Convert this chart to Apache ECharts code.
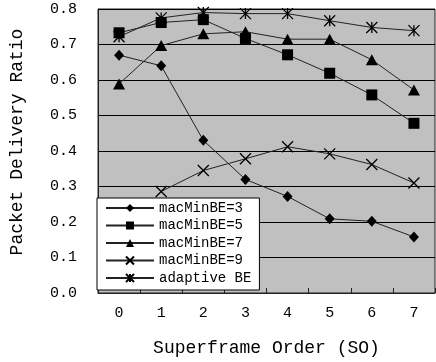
<!DOCTYPE html>
<html>
<head>
<meta charset="utf-8">
<script src="https://cdn.jsdelivr.net/npm/echarts@6/dist/echarts.min.js"></script>
<style>html,body{margin:0;padding:0;background:#fff}#c{width:436px;height:362px}</style>
</head>
<body>
<div id="c"></div>
<script>
var categories = ['0','1','2','3','4','5','6','7'];
var be3 = [0.67, 0.64, 0.43, 0.32, 0.272, 0.209, 0.202, 0.158];
var be5 = [0.733, 0.762, 0.77, 0.717, 0.671, 0.619, 0.558, 0.478];
var be7 = [0.589, 0.697, 0.73, 0.736, 0.715, 0.715, 0.657, 0.572];
var be9 = ['-', 0.286, 0.345, 0.378, 0.412, 0.392, 0.362, 0.31];
var adaptive = [0.722, 0.775, 0.79, 0.787, 0.787, 0.767, 0.748, 0.739];
var seriesNames = ['macMinBE=3','macMinBE=5','macMinBE=7','macMinBE=9','adaptive BE'];

var FONT = 'Liberation Mono';
var xPath = 'path://M0,0 L10,10 M10,0 L0,10';
var starPath = 'path://M0,0 L10,10 M10,0 L0,10 M5,0 L5,10';

function mk(name, data, symbol, size, stroke) {
  var s = {
    name: name, type: 'line', data: data,
    symbol: symbol, symbolSize: size, showSymbol: true,
    lineStyle: {color: '#222', width: 1},
    itemStyle: {color: '#000'},
    emphasis: {disabled: true},
    animation: false
  };
  if (stroke) {
    s.itemStyle = {color: 'rgba(0,0,0,0)', borderColor: '#000', borderWidth: 1.3};
  }
  return s;
}

var chart = echarts.init(document.getElementById('c'));
chart.setOption({
  backgroundColor: '#fff',
  animation: false,
  grid: {left: 93, right: 1, top: 9, bottom: 66, show: true, backgroundColor: '#c0c0c0', borderColor: '#222', borderWidth: 1},
  legend: {
    orient: 'vertical', left: 97, top: 198,
    data: seriesNames,
    backgroundColor: '#fff', borderColor: '#000', borderWidth: 1,
    padding: [3, 8, 5, 8], itemGap: 3.5, itemWidth: 48, itemHeight: 10,
    textStyle: {fontFamily: FONT, fontSize: 14, color: '#000', lineHeight: 14},
    selectedMode: false
  },
  xAxis: {
    type: 'category', data: categories, boundaryGap: true,
    name: 'Superframe Order (SO)', nameLocation: 'middle', nameGap: 46,
    nameTextStyle: {fontFamily: FONT, fontSize: 18, color: '#000'},
    axisLine: {lineStyle: {color: '#222', width: 1}},
    axisTick: {show: true, inside: true, length: 5, lineStyle: {color: '#222'}},
    axisLabel: {fontFamily: FONT, fontSize: 15, color: '#000', margin: 13},
    splitLine: {show: false}
  },
  yAxis: {
    type: 'value', min: 0, max: 0.8, interval: 0.1,
    name: 'Packet Delivery Ratio', nameLocation: 'middle', nameGap: 72,
    nameTextStyle: {fontFamily: FONT, fontSize: 18, color: '#000', padding: [0, 0, 0, 18]},
    axisLine: {show: true, lineStyle: {color: '#222', width: 1}},
    axisTick: {show: false},
    axisLabel: {fontFamily: FONT, fontSize: 15, color: '#000', margin: 21, formatter: function (v) { return v.toFixed(1); }},
    splitLine: {show: true, lineStyle: {color: '#000', width: 1}}
  },
  series: [
    mk(seriesNames[0], be3, 'diamond', [10, 11], false),
    mk(seriesNames[1], be5, 'rect', 11, false),
    mk(seriesNames[2], be7, 'triangle', [12, 11], false),
    mk(seriesNames[3], be9, xPath, 11, true),
    mk(seriesNames[4], adaptive, starPath, 11, true)
  ]
});
</script>
</body>
</html>
